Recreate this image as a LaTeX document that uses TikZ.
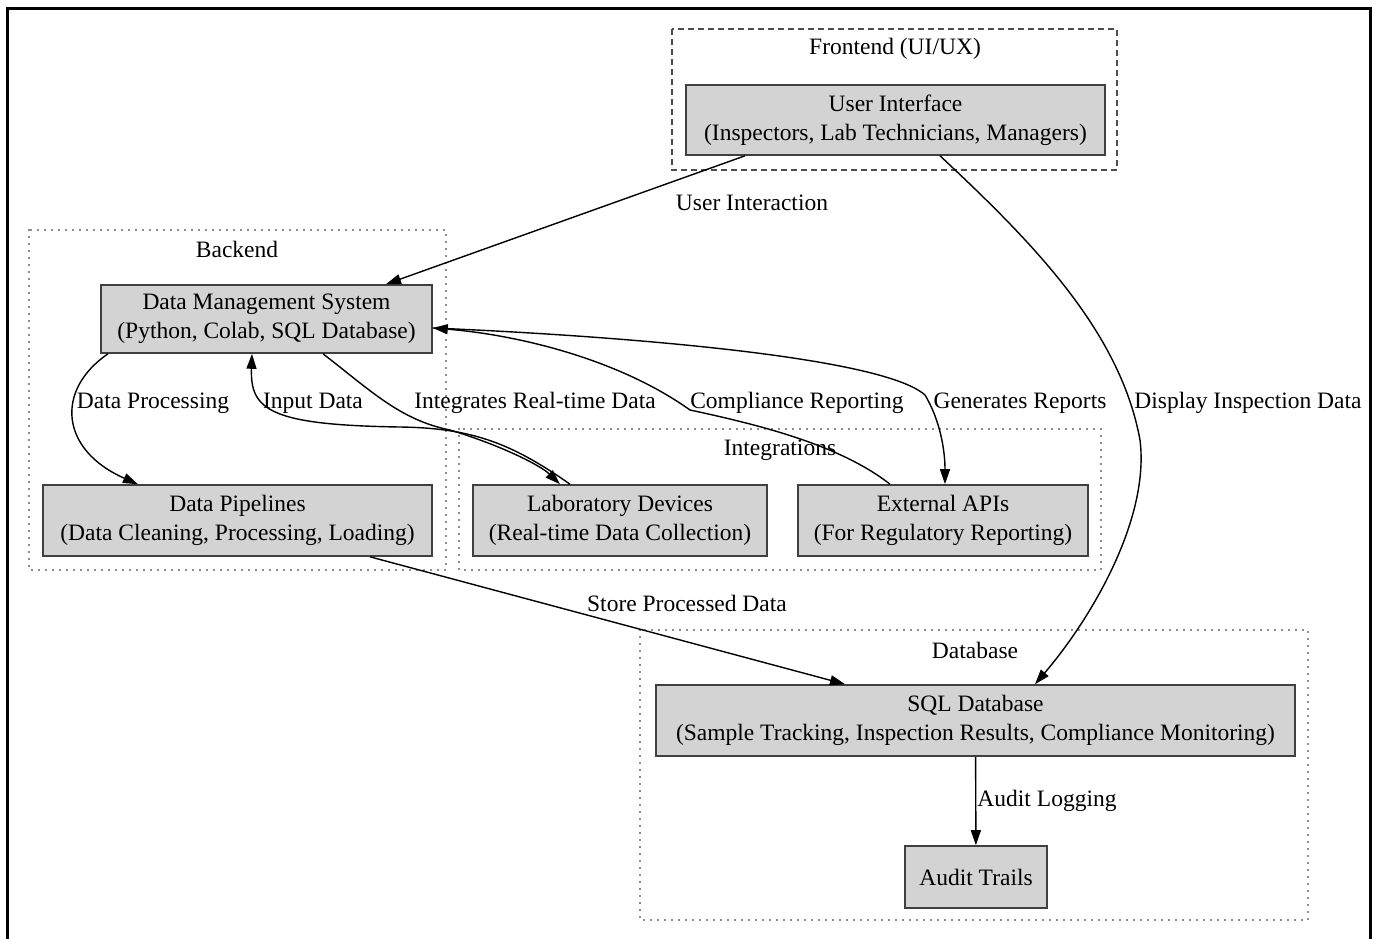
\documentclass[tikz,border=0pt]{standalone}
\usepackage{fontspec}
\setmainfont{Liberation Serif}
\usetikzlibrary{arrows.meta}
\definecolor{boxgray}{HTML}{D3D3D3}
\begin{document}
\begin{tikzpicture}[x=1pt,y=-1pt,
  box/.style={draw=black!75, fill=boxgray, line width=1.6pt, inner sep=0pt, align=center, font=\fontsize{23.5}{29}\selectfont},
  lbl/.style={inner sep=0pt, font=\fontsize{23.5}{29}\selectfont},
  conn/.style={line width=1.4pt, -{Triangle[length=15pt,width=10pt]}},
  dotbox/.style={draw=black!90, line width=1.8pt, dash pattern=on 0pt off 7pt, line cap=round},
  dashbox/.style={draw=black!70, line width=1.4pt, dash pattern=on 6pt off 4pt}]
\useasboundingbox (0,0) rectangle (1374,938);
\fill[white] (0,0) rectangle (1374,938);
% outer frame
\draw[line width=2.2pt] (7.5,940) -- (7.5,8.5) -- (1370.5,8.5) -- (1370.5,940);

% clusters
\draw[dashbox] (672,29) rectangle (1117,170);
\draw[dotbox] (29,230) rectangle (446,570);
\draw[dotbox] (459,429) rectangle (1101,570);
\draw[dotbox] (640,630) rectangle (1308,920);
\node[lbl] (lfront) at (895,49) {Frontend (UI/UX)};
\node[lbl] (lback) at (237,249) {Backend};
\node[lbl] (lint) at (780,450) {Integrations};
\node[lbl] (ldb) at (975,650) {Database};

% nodes
\node[box, minimum width=419pt, minimum height=70pt] (ui) at (895.5,120) {User Interface\\(Inspectors, Lab Technicians, Managers)};
\node[box, minimum width=331pt, minimum height=68pt] (dms) at (266.5,319) {Data Management System\\(Python, Colab, SQL Database)};
\node[box, minimum width=389pt, minimum height=71pt] (dp) at (237.5,520.5) {Data Pipelines\\(Data Cleaning, Processing, Loading)};
\node[box, minimum width=294pt, minimum height=71pt] (lab) at (620,520.5) {Laboratory Devices\\(Real-time Data Collection)};
\node[box, minimum width=290pt, minimum height=71pt] (api) at (943,520.5) {External APIs\\(For Regulatory Reporting)};
\node[box, minimum width=639pt, minimum height=71pt] (sql) at (975.5,720.5) {SQL Database\\(Sample Tracking, Inspection Results, Compliance Monitoring)};
\node[box, minimum width=142pt, minimum height=62pt] (audit) at (976,877) {Audit Trails};

% anchor coordinates on node borders
\coordinate (uiA) at (ui.south -| 745,0);
\coordinate (uiB) at (ui.south -| 940,0);
\coordinate (dmsT) at (dms.north -| 386,0);
\coordinate (dmsB1) at (dms.south -| 108,0);
\coordinate (dmsB2) at (dms.south -| 252,0);
\coordinate (dmsB3) at (dms.south -| 323,0);
\coordinate (dmsR) at (dms.east |- 0,328);
\coordinate (dpT) at (dp.north -| 138,0);
\coordinate (dpB) at (dp.south -| 370,0);
\coordinate (labT1) at (lab.north -| 570,0);
\coordinate (labT2) at (lab.north -| 560,0);
\coordinate (apiT1) at (api.north -| 890,0);
\coordinate (apiT2) at (api.north -| 945,0);
\coordinate (sqlT1) at (sql.north -| 845,0);
\coordinate (sqlT2) at (sql.north -| 1035,0);

% edges
\draw[conn] (uiA) -- (dmsT);
\draw[conn] (uiB) .. controls (1030,240) and (1120,330) .. (1140,440) .. controls (1150,520) and (1090,620) .. (sqlT2);
\draw[conn] (dmsB1) .. controls (55,390) and (60,450) .. (dpT);
\draw[conn] (labT1) .. controls (510,442) and (470,428) .. (400,427) .. controls (270,425) and (250,410) .. (dmsB2);
\draw[conn] (dmsB3) .. controls (370,390) and (400,420) .. (450,430) .. controls (500,445) and (540,465) .. (labT2);
\draw[conn] (apiT1) .. controls (840,445) and (760,425) .. (690,410) .. controls (620,360) and (520,335) .. (dmsR);
\draw[conn] (dmsR) .. controls (600,335) and (880,355) .. (925,395) .. controls (940,420) and (945,450) .. (apiT2);
\draw[conn] (dpB) -- (sqlT1);
\draw[conn] (sql) -- (audit);

% edge labels
\node[lbl] (e1) at (752,203) {User Interaction};
\node[lbl] (e2) at (1248,403) {Display Inspection Data};
\node[lbl] (e3) at (153,403) {Data Processing};
\node[lbl] (e4) at (313,403) {Input Data};
\node[lbl] (e5) at (535,403) {Integrates Real-time Data};
\node[lbl] (e6) at (797,403) {Compliance Reporting};
\node[lbl] (e7) at (1020,403) {Generates Reports};
\node[lbl] (e8) at (687,603) {Store Processed Data};
\node[lbl] (e9) at (1047,801) {Audit Logging};
\end{tikzpicture}
\end{document}
